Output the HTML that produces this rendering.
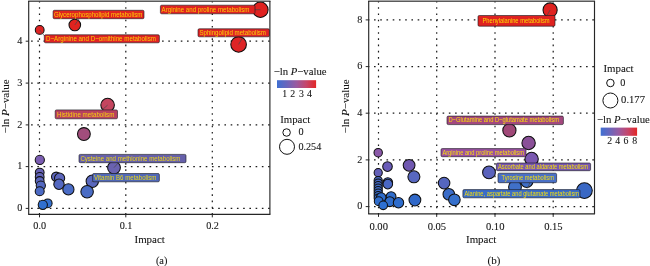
<!DOCTYPE html>
<html><head><meta charset="utf-8"><title>Pathway analysis</title>
<style>
html,body{margin:0;padding:0;background:#fff;}
body{width:650px;height:266px;overflow:hidden;}
svg{display:block;}
text{font-family:"Liberation Serif",serif;fill:#151515;stroke:#151515;stroke-width:0.09;}
.tk{font-size:10.2px;}
.tt{font-size:10.8px;}
.la{font-family:"Liberation Sans",sans-serif;font-size:7px;fill:#ffe600;fill-opacity:0.85;stroke:none;}
.lb{font-family:"Liberation Sans",sans-serif;font-size:6.8px;fill:#ffe600;fill-opacity:0.92;stroke:none;}
.grid{stroke:#1a1a1a;stroke-width:1.2;stroke-dasharray:1.6 4.637;fill:none;}
.pt{stroke:#101010;stroke-width:1.05;}
.box{stroke:#1c1c22;stroke-opacity:0.78;stroke-width:0.8;}
.sg{stroke:#484848;stroke-width:0.7;}
.bd{stroke:#262626;fill:none;}
</style></head><body>
<svg width="650" height="266" viewBox="0 0 650 266">
<defs>
<linearGradient id="gr" x1="0" x2="1" y1="0" y2="0">
<stop offset="0" stop-color="#3f70d2"/><stop offset="0.25" stop-color="#6a66bc"/><stop offset="0.5" stop-color="#9a5aa0"/><stop offset="0.75" stop-color="#c6456a"/><stop offset="1" stop-color="#e22626"/>
</linearGradient></defs>
<rect x="0" y="0" width="650" height="266" fill="#fff"/>
<line class="grid" x1="39.5" y1="214.6" x2="39.5" y2="0.5"/>
<line class="grid" x1="125.8" y1="214.6" x2="125.8" y2="0.5"/>
<line class="grid" x1="212.3" y1="214.6" x2="212.3" y2="0.5"/>
<line class="grid" x1="269.7" y1="208.4" x2="28.7" y2="208.4"/>
<line class="grid" x1="269.7" y1="166.6" x2="28.7" y2="166.6"/>
<line class="grid" x1="269.7" y1="124.9" x2="28.7" y2="124.9"/>
<line class="grid" x1="269.7" y1="83.1" x2="28.7" y2="83.1"/>
<line class="grid" x1="269.7" y1="41.2" x2="28.7" y2="41.2"/>
<circle class="pt" cx="260.4" cy="9.7" r="7.7" fill="#df2220"/>
<circle class="pt" cx="238.6" cy="44.4" r="7.8" fill="#de2426"/>
<circle class="pt" cx="74.8" cy="25" r="5.8" fill="#e1231f"/>
<circle class="pt" cx="39.7" cy="29.9" r="4.4" fill="#df2323"/>
<circle class="pt" cx="107.6" cy="105.1" r="6.8" fill="#c4455f"/>
<circle class="pt" cx="83.9" cy="134" r="6.4" fill="#a24d7c"/>
<circle class="pt" cx="114" cy="167.6" r="6.4" fill="#6a62b0"/>
<circle class="pt" cx="39.8" cy="159.9" r="4.6" fill="#7b5db2"/>
<circle class="pt" cx="39.7" cy="172.6" r="4.4" fill="#6862b6"/>
<circle class="pt" cx="39.7" cy="176.9" r="4.4" fill="#6264b8"/>
<circle class="pt" cx="39.7" cy="181" r="4.4" fill="#5c66bc"/>
<circle class="pt" cx="40.8" cy="185.6" r="4.6" fill="#5468c0"/>
<circle class="pt" cx="39.7" cy="191.2" r="4.5" fill="#4c6ac4"/>
<circle class="pt" cx="56.2" cy="176.8" r="4.7" fill="#5e66bc"/>
<circle class="pt" cx="59.6" cy="178.2" r="5.1" fill="#5c66bc"/>
<circle class="pt" cx="59" cy="184.2" r="5.2" fill="#5468c0"/>
<circle class="pt" cx="68.4" cy="189.4" r="5.6" fill="#4a6cc6"/>
<circle class="pt" cx="92.3" cy="181.2" r="6.2" fill="#5a68be"/>
<circle class="pt" cx="87.1" cy="191.8" r="6.25" fill="#4a6cc4"/>
<circle class="pt" cx="47.7" cy="203.3" r="4.4" fill="#3472d2"/>
<circle class="pt" cx="42.8" cy="204.8" r="4.6" fill="#3070d0"/>
<line class="sg" x1="74.8" y1="25" x2="79" y2="19"/>
<line class="sg" x1="39.7" y1="29.9" x2="44.5" y2="36"/>
<line class="sg" x1="238.6" y1="44.4" x2="243" y2="37"/>
<line class="sg" x1="107.6" y1="105.1" x2="102" y2="110"/>
<line class="sg" x1="114" y1="167.6" x2="118.5" y2="162.6"/>
<line class="sg" x1="91.6" y1="182" x2="95" y2="180"/>
<line class="sg" x1="260.4" y1="9.7" x2="253" y2="9.7"/>
<rect class="box" x="160.4" y="5.2" width="94.6" height="8.6" rx="1.3" fill="#df2220"/>
<text class="la" x="161.6" y="11.7" textLength="87.8" lengthAdjust="spacingAndGlyphs">Arginine and proline metabolism</text>
<rect class="box" x="198" y="28.8" width="71.4" height="8" rx="1.3" fill="#de2426"/>
<text class="la" x="199.4" y="35" textLength="66.6" lengthAdjust="spacingAndGlyphs">Sphingolipid metabolism</text>
<rect class="box" x="53.1" y="10.3" width="90.9" height="8.4" rx="1.3" fill="#e1231f"/>
<text class="la" x="53.9" y="16.7" textLength="88.5" lengthAdjust="spacingAndGlyphs">Glycerophospholipid metabolism</text>
<rect class="box" x="44.3" y="34.8" width="115.1" height="8" rx="1.3" fill="#df2323"/>
<text class="la" x="46" y="41" textLength="110" lengthAdjust="spacingAndGlyphs">D−Arginine and D−ornithine metabolism</text>
<rect class="box" x="55.2" y="109.9" width="62.3" height="8.9" rx="1.3" fill="#b8405e"/>
<text class="la" x="57" y="116.55" textLength="57.4" lengthAdjust="spacingAndGlyphs">Histidine metabolism</text>
<rect class="box" x="79" y="154.4" width="107" height="8.3" rx="1.3" fill="#6660aa"/>
<text class="la" x="80.4" y="160.75" textLength="100" lengthAdjust="spacingAndGlyphs">Cysteine and methionine metabolism</text>
<rect class="box" x="92.6" y="173.5" width="66.8" height="8.3" rx="1.3" fill="#5068b8"/>
<text class="la" x="94" y="179.85" textLength="62.4" lengthAdjust="spacingAndGlyphs">Vitamin B6 metabolism</text>
<line x1="28.15" y1="0.5" x2="270.45" y2="0.5" stroke="#b2b2b2" stroke-width="1"/>
<line x1="28.15" y1="1.4" x2="270.45" y2="1.4" stroke="#484848" stroke-width="1"/>
<line class="bd" x1="28.15" y1="214.35" x2="270.45" y2="214.35" stroke-width="1.2"/>
<line class="bd" x1="28.7" y1="1.1" x2="28.7" y2="214.35" stroke-width="1.15"/>
<line class="bd" x1="269.9" y1="1.1" x2="269.9" y2="214.35" stroke-width="1.15"/>
<line class="bd" x1="39.5" y1="214.35" x2="39.5" y2="217.35" stroke-width="1"/>
<text class="tk" x="39.7" y="229.4" text-anchor="middle" style="font-size:10.2px">0.0</text>
<line class="bd" x1="125.8" y1="214.35" x2="125.8" y2="217.35" stroke-width="1"/>
<text class="tk" x="126" y="229.4" text-anchor="middle" style="font-size:10.2px">0.1</text>
<line class="bd" x1="212.3" y1="214.35" x2="212.3" y2="217.35" stroke-width="1"/>
<text class="tk" x="212.5" y="229.4" text-anchor="middle" style="font-size:10.2px">0.2</text>
<line class="bd" x1="25.7" y1="208.4" x2="28.7" y2="208.4" stroke-width="1"/>
<text class="tk" x="22.3" y="211.15" text-anchor="end">0</text>
<line class="bd" x1="25.7" y1="166.6" x2="28.7" y2="166.6" stroke-width="1"/>
<text class="tk" x="22.3" y="169.35" text-anchor="end">1</text>
<line class="bd" x1="25.7" y1="124.9" x2="28.7" y2="124.9" stroke-width="1"/>
<text class="tk" x="22.3" y="127.65" text-anchor="end">2</text>
<line class="bd" x1="25.7" y1="83.1" x2="28.7" y2="83.1" stroke-width="1"/>
<text class="tk" x="22.3" y="85.85" text-anchor="end">3</text>
<line class="bd" x1="25.7" y1="41.2" x2="28.7" y2="41.2" stroke-width="1"/>
<text class="tk" x="22.3" y="43.95" text-anchor="end">4</text>
<text class="tt" transform="translate(8.8,106.4) rotate(-90)" text-anchor="middle" textLength="54" lengthAdjust="spacingAndGlyphs">−ln <tspan font-style="italic">P</tspan>−value</text>
<text class="tt" x="134.5" y="243" textLength="30.3" lengthAdjust="spacingAndGlyphs">Impact</text>
<text class="tk" x="155.9" y="263.7" textLength="11.5" lengthAdjust="spacingAndGlyphs">(a)</text>
<text class="tt" x="273.7" y="74.8" textLength="52.9" lengthAdjust="spacingAndGlyphs">−ln <tspan font-style="italic">P</tspan>−value</text>
<rect x="277" y="80.2" width="39.1" height="7.8" fill="url(#gr)"/>
<text class="tk" x="284.8" y="97.1" text-anchor="middle" style="font-size:9.8px">1</text>
<text class="tk" x="292.8" y="97.1" text-anchor="middle" style="font-size:9.8px">2</text>
<text class="tk" x="301.4" y="97.1" text-anchor="middle" style="font-size:9.8px">3</text>
<text class="tk" x="309.4" y="97.1" text-anchor="middle" style="font-size:9.8px">4</text>
<text class="tt" x="280.2" y="122.7" textLength="30" lengthAdjust="spacingAndGlyphs">Impact</text>
<circle cx="286.6" cy="132.5" r="3.75" fill="#fff" stroke="#111" stroke-width="1"/>
<circle cx="287" cy="146.8" r="7.5" fill="#fff" stroke="#111" stroke-width="1"/>
<text class="tk" x="298.4" y="134.5">0</text>
<text class="tk" x="298.4" y="150.2" textLength="22.9" lengthAdjust="spacingAndGlyphs">0.254</text>
<line class="grid" x1="378.5" y1="214.6" x2="378.5" y2="0.5"/>
<line class="grid" x1="436.7" y1="214.6" x2="436.7" y2="0.5"/>
<line class="grid" x1="495" y1="214.6" x2="495" y2="0.5"/>
<line class="grid" x1="553.2" y1="214.6" x2="553.2" y2="0.5"/>
<line class="grid" x1="593.9" y1="206.6" x2="368.7" y2="206.6"/>
<line class="grid" x1="593.9" y1="159.9" x2="368.7" y2="159.9"/>
<line class="grid" x1="593.9" y1="113.2" x2="368.7" y2="113.2"/>
<line class="grid" x1="593.9" y1="66.6" x2="368.7" y2="66.6"/>
<line class="grid" x1="593.9" y1="19.9" x2="368.7" y2="19.9"/>
<circle class="pt" cx="550.1" cy="10" r="7.1" fill="#df2220"/>
<circle class="pt" cx="509.4" cy="130.4" r="6.6" fill="#a04878"/>
<circle class="pt" cx="528.6" cy="143" r="6.7" fill="#8a5098"/>
<circle class="pt" cx="531.6" cy="159" r="6.7" fill="#7a58b0"/>
<circle class="pt" cx="489" cy="172.4" r="6.4" fill="#5a62bc"/>
<circle class="pt" cx="515" cy="187" r="6.4" fill="#4070c8"/>
<circle class="pt" cx="526.8" cy="181.3" r="6.2" fill="#4070c8"/>
<circle class="pt" cx="584.4" cy="190.6" r="7.9" fill="#3a68c4"/>
<circle class="pt" cx="444.1" cy="183.1" r="5.8" fill="#5566be"/>
<circle class="pt" cx="448.8" cy="194.2" r="5.8" fill="#3a6cc8"/>
<circle class="pt" cx="454.4" cy="199.8" r="5.8" fill="#3570cc"/>
<circle class="pt" cx="378.2" cy="152.7" r="4.2" fill="#8a58a8"/>
<circle class="pt" cx="387.5" cy="166.6" r="4.8" fill="#6a5cb8"/>
<circle class="pt" cx="409.1" cy="165.3" r="5.9" fill="#7058b0"/>
<circle class="pt" cx="413.9" cy="176.8" r="6" fill="#5868c0"/>
<circle class="pt" cx="378.2" cy="172.7" r="4.1" fill="#6460b8"/>
<circle class="pt" cx="387.8" cy="182.6" r="4.8" fill="#4a68c4"/>
<circle class="pt" cx="387.8" cy="184.1" r="4.8" fill="#4a68c4"/>
<circle class="pt" cx="378.2" cy="180.5" r="4.1" fill="#4668c2"/>
<circle class="pt" cx="378.2" cy="183" r="4.1" fill="#4468c3"/>
<circle class="pt" cx="378.2" cy="185.5" r="4.1" fill="#4269c4"/>
<circle class="pt" cx="378.2" cy="188" r="4.1" fill="#3f69c5"/>
<circle class="pt" cx="378.2" cy="190.5" r="4.1" fill="#3c6ac6"/>
<circle class="pt" cx="378.2" cy="193" r="4.1" fill="#396ac7"/>
<circle class="pt" cx="378.2" cy="195.5" r="4.1" fill="#366bc8"/>
<circle class="pt" cx="378.2" cy="198" r="4.1" fill="#336bc9"/>
<circle class="pt" cx="391.1" cy="196.6" r="4.9" fill="#2f6dcc"/>
<circle class="pt" cx="381.2" cy="197.6" r="4.8" fill="#2f6dcc"/>
<circle class="pt" cx="414.9" cy="200" r="5.9" fill="#3068c8"/>
<circle class="pt" cx="378.7" cy="201.2" r="4.4" fill="#2f6dcc"/>
<circle class="pt" cx="389.8" cy="201.7" r="4.9" fill="#2f6dcc"/>
<circle class="pt" cx="398.5" cy="202.7" r="5.2" fill="#2f6dcc"/>
<circle class="pt" cx="383.2" cy="205.3" r="4.3" fill="#2e70d2"/>
<line class="sg" x1="550.1" y1="10" x2="547" y2="15.5"/>
<line class="sg" x1="526.8" y1="181.3" x2="529.8" y2="183"/>
<line class="sg" x1="529.8" y1="183" x2="527.2" y2="188.5"/>
<rect class="box" x="478" y="15.5" width="77" height="10.7" rx="1.3" fill="#df2220"/>
<text class="lb" x="482.4" y="22.95" textLength="67.2" lengthAdjust="spacingAndGlyphs">Phenylalanine metabolism</text>
<rect class="box" x="447" y="116.1" width="116.4" height="8.5" rx="1.3" fill="#a4487e"/>
<text class="lb" x="448.4" y="122.45" textLength="110.6" lengthAdjust="spacingAndGlyphs">D−Glutamine and D−glutamate metabolism</text>
<rect class="box" x="441" y="148.6" width="85" height="8.1" rx="1.3" fill="#9a50a0"/>
<text class="lb" x="442.4" y="154.75" textLength="81.6" lengthAdjust="spacingAndGlyphs">Arginine and proline metabolism</text>
<rect class="box" x="496.4" y="163" width="94.2" height="7.7" rx="1.3" fill="#7858b0"/>
<text class="lb" x="498" y="168.95" textLength="90" lengthAdjust="spacingAndGlyphs">Ascorbate and aldarate metabolism</text>
<rect class="box" x="498" y="173.2" width="58.6" height="9.5" rx="1.3" fill="#4a70c6"/>
<text class="lb" x="501.6" y="180.05" textLength="52.3" lengthAdjust="spacingAndGlyphs">Tyrosine metabolism</text>
<rect class="box" x="462.9" y="189.6" width="117.1" height="8.2" rx="1.3" fill="#3a6cc8"/>
<text class="lb" x="464.5" y="195.8" textLength="114.5" lengthAdjust="spacingAndGlyphs">Alanine, aspartate and glutamate metabolism</text>
<line x1="368.15" y1="0.5" x2="595.05" y2="0.5" stroke="#b2b2b2" stroke-width="1"/>
<line x1="368.15" y1="1.4" x2="595.05" y2="1.4" stroke="#484848" stroke-width="1"/>
<line class="bd" x1="368.15" y1="213.9" x2="595.05" y2="213.9" stroke-width="1.2"/>
<line class="bd" x1="368.7" y1="1.1" x2="368.7" y2="213.9" stroke-width="1.15"/>
<line class="bd" x1="594.5" y1="1.1" x2="594.5" y2="213.9" stroke-width="1.15"/>
<line class="bd" x1="378.5" y1="213.9" x2="378.5" y2="216.9" stroke-width="1"/>
<text class="tk" x="378.7" y="229.7" text-anchor="middle" style="font-size:10.6px">0.00</text>
<line class="bd" x1="436.7" y1="213.9" x2="436.7" y2="216.9" stroke-width="1"/>
<text class="tk" x="436.9" y="229.7" text-anchor="middle" style="font-size:10.6px">0.05</text>
<line class="bd" x1="495" y1="213.9" x2="495" y2="216.9" stroke-width="1"/>
<text class="tk" x="495.2" y="229.7" text-anchor="middle" style="font-size:10.6px">0.10</text>
<line class="bd" x1="553.2" y1="213.9" x2="553.2" y2="216.9" stroke-width="1"/>
<text class="tk" x="553.4" y="229.7" text-anchor="middle" style="font-size:10.6px">0.15</text>
<line class="bd" x1="365.7" y1="206.6" x2="368.7" y2="206.6" stroke-width="1"/>
<text class="tk" x="362.3" y="209.35" text-anchor="end">0</text>
<line class="bd" x1="365.7" y1="159.9" x2="368.7" y2="159.9" stroke-width="1"/>
<text class="tk" x="362.3" y="162.65" text-anchor="end">2</text>
<line class="bd" x1="365.7" y1="113.2" x2="368.7" y2="113.2" stroke-width="1"/>
<text class="tk" x="362.3" y="115.95" text-anchor="end">4</text>
<line class="bd" x1="365.7" y1="66.6" x2="368.7" y2="66.6" stroke-width="1"/>
<text class="tk" x="362.3" y="69.35" text-anchor="end">6</text>
<line class="bd" x1="365.7" y1="19.9" x2="368.7" y2="19.9" stroke-width="1"/>
<text class="tk" x="362.3" y="22.65" text-anchor="end">8</text>
<text class="tt" transform="translate(349.4,106.4) rotate(-90)" text-anchor="middle" textLength="54" lengthAdjust="spacingAndGlyphs">−ln <tspan font-style="italic">P</tspan>−value</text>
<text class="tt" x="466" y="243" textLength="30.3" lengthAdjust="spacingAndGlyphs">Impact</text>
<text class="tk" x="487.5" y="263.7" textLength="12.8" lengthAdjust="spacingAndGlyphs">(b)</text>
<text class="tt" x="603.5" y="72.1" textLength="30.1" lengthAdjust="spacingAndGlyphs">Impact</text>
<circle cx="610.4" cy="83" r="3.75" fill="#fff" stroke="#111" stroke-width="1"/>
<circle cx="610.4" cy="100.5" r="7.5" fill="#fff" stroke="#111" stroke-width="1"/>
<text class="tk" x="620.3" y="85.8">0</text>
<text class="tk" x="621.1" y="103.1" textLength="23.9" lengthAdjust="spacingAndGlyphs">0.177</text>
<text class="tt" x="596.9" y="123.3" textLength="53" lengthAdjust="spacingAndGlyphs">−ln <tspan font-style="italic">P</tspan>−value</text>
<rect x="600.7" y="127.6" width="36.4" height="8.2" fill="url(#gr)"/>
<text class="tk" x="609.6" y="144.4" text-anchor="middle" style="font-size:9.8px">2</text>
<text class="tk" x="617.7" y="144.4" text-anchor="middle" style="font-size:9.8px">4</text>
<text class="tk" x="626" y="144.4" text-anchor="middle" style="font-size:9.8px">6</text>
<text class="tk" x="634.6" y="144.4" text-anchor="middle" style="font-size:9.8px">8</text>
</svg></body></html>
